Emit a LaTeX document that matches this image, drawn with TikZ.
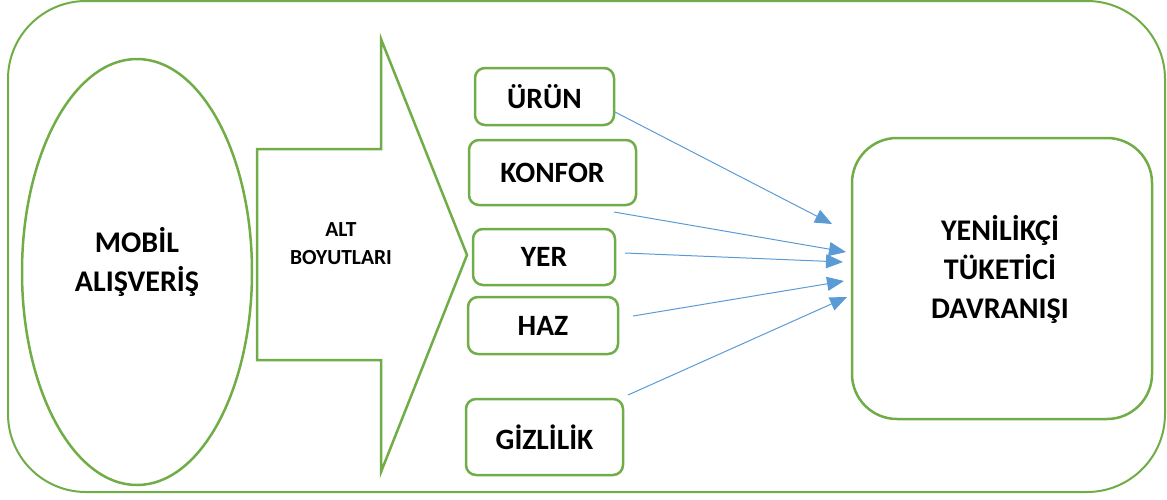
\documentclass[tikz,border=0pt]{standalone}
\usepackage{fontspec}
\setmainfont{Carlito}
\usetikzlibrary{shapes.geometric,arrows.meta}
\definecolor{grn}{HTML}{70AD47}
\definecolor{blu}{HTML}{5B9BD5}
\tikzset{
  gline/.style={draw=grn,line width=2.5pt},
  sbox/.style={gline,rounded corners=10pt,inner sep=0pt,font=\fontsize{29.5}{33}\selectfont\bfseries},
  bigtxt/.style={font=\fontsize{30}{39}\selectfont\bfseries,align=center,inner sep=0pt},
  smalltxt/.style={font=\fontsize{21.5}{28}\selectfont\bfseries,align=center,inner sep=0pt},
  conn/.style={draw=blu,line width=1pt,-{Triangle[length=17pt,width=14pt]}}
}
\begin{document}
\begin{tikzpicture}[x=1pt,y=-1pt]
\useasboundingbox (0,0) rectangle (1167,499);
% outer frame
\draw[draw=grn,line width=2pt,rounded corners=78pt] (8,1) rectangle (1165,492);
% ellipse
\node[gline,ellipse,minimum width=230pt,minimum height=426pt,inner sep=0pt] (mob) at (137,272) {};
\node[bigtxt] (mobt) at (137,262) {MOBİL\\ALIŞVERİŞ};
% big arrow
\draw[gline,line join=miter] (257,149) -- (381,149) -- (381,39) -- (467,255) -- (381,472) -- (381,360) -- (257,360) -- cycle;
\node[smalltxt] (alt) at (341,244) {ALT\\BOYUTLARI};
% boxes
\node[sbox,minimum width=139pt,minimum height=57pt] (urun) at (544.5,96.5) {ÜRÜN};
\node[sbox,minimum width=167pt,minimum height=65pt] (konfor) at (552.5,172.5) {KONFOR};
\node[sbox,minimum width=142pt,minimum height=56pt] (yer) at (544,257) {YER};
\node[sbox,minimum width=150pt,minimum height=57pt] (haz) at (543,325.5) {HAZ};
\node[sbox,minimum width=157pt,minimum height=76pt] (giz) at (544.5,437) {GİZLİLİK};
% right box
\node[gline,rounded corners=45pt,minimum width=300pt,minimum height=281pt,inner sep=0pt] (ytd) at (1002,278.5) {};
\node[bigtxt] (ytdt) at (1000,269) {YENİLİKÇİ\\TÜKETİCİ\\DAVRANIŞI};
% connector ends
\coordinate (s1) at (615,112); \coordinate (e1) at (832,224);
\coordinate (s2) at (614,212); \coordinate (e2) at (846,252);
\coordinate (s3) at (625,253); \coordinate (e3) at (843,262);
\coordinate (s4) at (633,316); \coordinate (e4) at (844,281);
\coordinate (s5) at (628,395); \coordinate (e5) at (847,297);
\draw[conn] (s1) -- (e1);
\draw[conn] (s2) -- (e2);
\draw[conn] (s3) -- (e3);
\draw[conn] (s4) -- (e4);
\draw[conn] (s5) -- (e5);
\end{tikzpicture}
\end{document}
